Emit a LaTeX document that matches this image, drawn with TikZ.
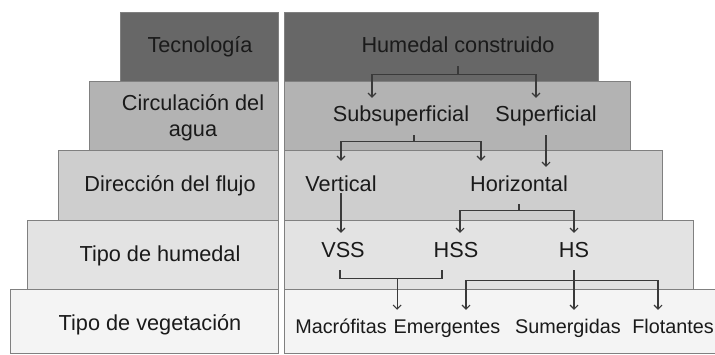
\documentclass[tikz,border=0pt]{standalone}
\usepackage{fontspec}
\setmainfont{Liberation Sans}
\usetikzlibrary{arrows.meta}

\definecolor{band1}{HTML}{676767}
\definecolor{band2}{HTML}{B3B3B3}
\definecolor{band3}{HTML}{CECECE}
\definecolor{band4}{HTML}{E3E3E3}
\definecolor{band5}{HTML}{F4F4F4}
\definecolor{bandline}{HTML}{808080}
\definecolor{linkc}{HTML}{3A3A3A}
\definecolor{txt}{HTML}{1A1A1A}

\tikzset{
  band/.style={draw=bandline, line width=0.8pt},
  lbl/.style={anchor=base, inner sep=0pt, text=txt, font=\fontsize{21.7}{26}\selectfont},
  item/.style={anchor=base, inner sep=8pt, text height=16pt, text depth=5pt, text=txt, font=\fontsize{21.7}{26}\selectfont},
  leaf/.style={item, text height=15pt, text depth=4.5pt, font=\fontsize{19.8}{24}\selectfont},
  link/.style={draw=linkc, line width=1.1pt},
  arr/.style={link, -{Straight Barb[length=4pt,width=8pt]}},
}

\begin{document}
\begin{tikzpicture}[x=1pt, y=1pt]
    \useasboundingbox (0,0) rectangle (715,354);

    % bands
    \filldraw[band, fill=band1] (120,273) rectangle (278,342);
    \filldraw[band, fill=band1] (284,273) rectangle (598,342);
    \filldraw[band, fill=band2] (89,204) rectangle (278,273);
    \filldraw[band, fill=band2] (284,204) rectangle (630,273);
    \filldraw[band, fill=band3] (58,134) rectangle (278,204);
    \filldraw[band, fill=band3] (284,134) rectangle (662,204);
    \filldraw[band, fill=band4] (27,65) rectangle (278,134);
    \filldraw[band, fill=band4] (284,65) rectangle (693,134);
    \filldraw[band, fill=band5] (10,1) rectangle (278,65);
    \filldraw[band, fill=band5] (284,1) rectangle (716,65);

    % levels
    \draw (200,301) node[lbl](tec){Tecnología}
          (193,236) node[lbl, anchor=center, align=center](circ){Circulación del\\agua}
          (170,162) node[lbl](dir){Dirección del flujo}
          (160,93) node[lbl](tipoh){Tipo de humedal}
          (150,24) node[lbl](tipov){Tipo de vegetación};

    % tree
    \draw (458,301) node[item](hc){Humedal construido}
          (401,232) node[item](sub){Subsuperficial}
          (546,232) node[item](sup){Superficial}
          (341,163) node[item](vert){Vertical}
          (519,163) node[item](hor){Horizontal}
          (343,97) node[item](vss){VSS}
          (456,97) node[item](hss){HSS}
          (574,97) node[item](hs){HS}
          (341,21) node[leaf](mac){Macrófitas}
          (447,21) node[leaf](emer){Emergentes}
          (568,21) node[leaf](sum){Sumergidas}
          (673,21) node[leaf](flo){Flotantes};

    \draw[link] (hc.south) -- ++(0,-8) coordinate (j1);
    \draw[arr] (j1) -| ([xshift=-29pt]sub.north);
    \draw[arr] (j1) -| ([xshift=-10pt]sup.north);

    \draw[link] ([xshift=13pt]sub.south) -- ++(0,-6) coordinate (j2);
    \draw[arr] (j2) -| ([yshift=6pt]vert.north);
    \draw[arr] (j2) -| ([xshift=-38pt, yshift=6pt]hor.north);
    \draw[arr] (sup.south) -- (sup.south |- hor.north);

    \draw[arr] ([yshift=-2pt]vert.base) -- (vert.base |- vss.north);
    \draw[link] (hor.south) -- ++(0,-6) coordinate (j3);
    \draw[arr] (j3) -| ([xshift=4pt]hss.north);
    \draw[arr] (j3) -| (hs.north);

    \draw[link] ([xshift=-3pt]vss.south) -- ++(0,-8) -| coordinate[pos=0.28] (j4) ([xshift=-14pt]hss.south);
    \draw[arr] (j4) -- (j4 |- emer.north);
    \draw[arr] (hs.south) -- (hs.south |- sum.north);
    \coordinate (j5) at ([yshift=-10pt]hs.south);
    \draw[arr] (j5) -| ([xshift=19pt]emer.north);
    \draw[arr] (j5) -| ([xshift=-15pt]flo.north);
\end{tikzpicture}
\end{document}
